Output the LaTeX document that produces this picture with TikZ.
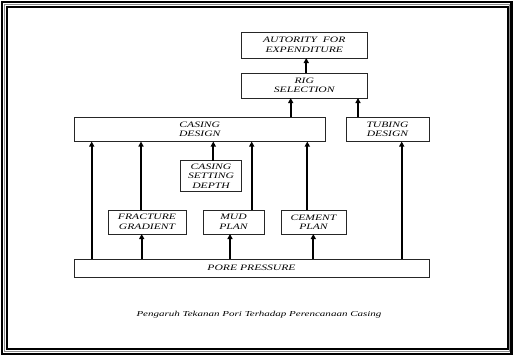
\documentclass[tikz,border=0pt]{standalone}
\usepackage{fontspec}
\setmainfont{Liberation Serif}
\usetikzlibrary{arrows.meta}
\newfontfamily\boxfont[FakeStretch=1.4]{Liberation Serif}
\newfontfamily\capfont[FakeStretch=1.45]{Liberation Serif}
\begin{document}
\begin{tikzpicture}[x=1pt,y=-1pt,
  blk/.style={draw=black!85, line width=0.9pt, inner sep=0pt, outer sep=0pt,
    align=center, font=\boxfont\itshape\fontsize{8.3}{9.5}\selectfont},
  arr/.style={line width=1.7pt, -{Triangle[length=5pt,width=5pt]}}]
\useasboundingbox (0,0) rectangle (513,356);
% frame
\draw[line width=2.5pt] (2,2) rectangle (511.5,354);
\draw[line width=0.8pt, black!45] (4.2,4.2) rectangle (509.5,351.8);
\draw[line width=2pt] (6.5,6.5) rectangle (507.7,349.3);
% boxes
\node[blk, minimum width=126.5, minimum height=26] (afe) at (304.25,45) {AUTORITY\ \ FOR\\EXPENDITURE};
\node[blk, minimum width=126.5, minimum height=25] (rs) at (304.25,85.5) {RIG\\SELECTION};
\node[blk, minimum width=251.5, minimum height=24.5] (cd) at (199.75,129.25) {CASING\\DESIGN};
\node[blk, minimum width=83, minimum height=24.5] (td) at (387.5,129.25) {TUBING\\DESIGN};
\node[blk, minimum width=61, minimum height=31] (csd) at (211,176) {CASING\\SETTING\\DEPTH};
\node[blk, minimum width=78, minimum height=24] (fg) at (147,222) {FRACTURE\\GRADIENT};
\node[blk, minimum width=61, minimum height=24] (mp) at (233.5,222) {MUD\\PLAN};
\node[blk, minimum width=65, minimum height=24] (cp) at (313.5,222) {CEMENT\\PLAN};
\node[blk, minimum width=355, minimum height=18.5] (pp) at (251.5,268.25) {PORE PRESSURE};
\node[font=\capfont\itshape\fontsize{7.6}{9}\selectfont] (cap) at (259,315) {Pengaruh Tekanan Pori Terhadap Perencanaan Casing};
% arrows
\draw[arr] ([xshift=2pt]rs.north) -- ([xshift=2pt]afe.south);
\draw[arr] ([xshift=216.7pt]cd.north west) -- ([xshift=49.7pt]rs.south west);
\draw[arr] ([xshift=12pt]td.north west) -- ([xshift=117pt]rs.south west);
\draw[arr] ([xshift=2.3pt]csd.north) -- ([xshift=139.3pt]cd.south west);
\draw[arr] ([xshift=17.7pt]pp.north west) -- ([xshift=17.7pt]cd.south west);
\draw[arr] ([xshift=67.7pt]pp.north west) -- ([xshift=33.7pt]fg.south west);
\draw[arr] ([xshift=33pt]fg.north west) -- ([xshift=67pt]cd.south west);
\draw[arr] ([xshift=156pt]pp.north west) -- ([xshift=27pt]mp.south west);
\draw[arr] ([xshift=48.7pt]mp.north west) -- ([xshift=177.7pt]cd.south west);
\draw[arr] ([xshift=239.3pt]pp.north west) -- ([xshift=32.3pt]cp.south west);
\draw[arr] ([xshift=26.3pt]cp.north west) -- ([xshift=233.3pt]cd.south west);
\draw[arr] ([xshift=327.7pt]pp.north west) -- ([xshift=55.7pt]td.south west);
\end{tikzpicture}
\end{document}
